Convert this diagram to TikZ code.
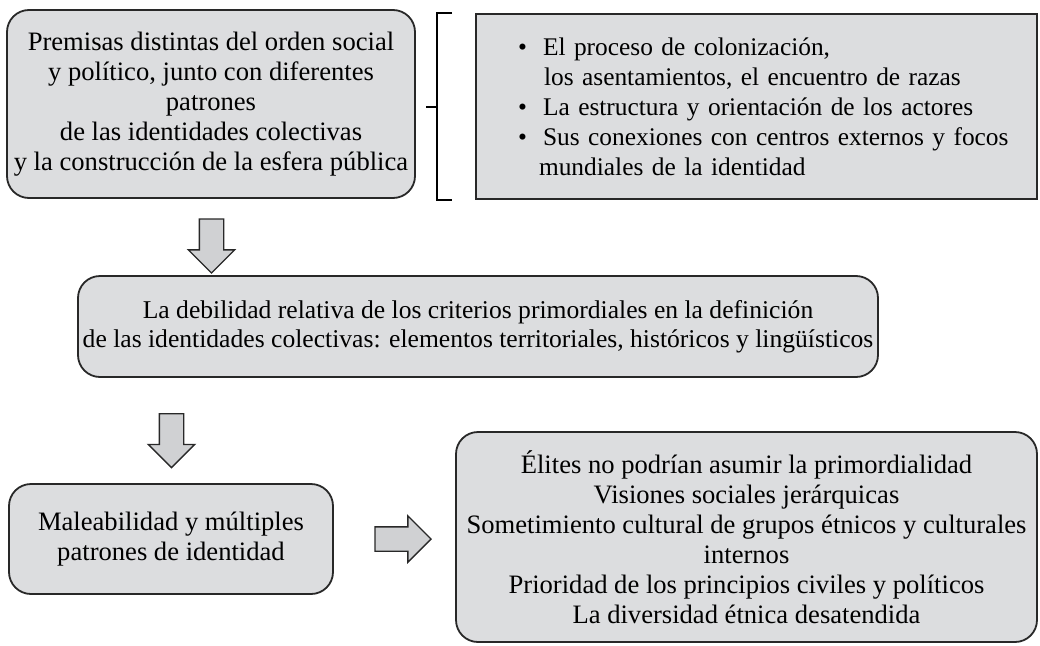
\documentclass[tikz,border=0pt]{standalone}
\usepackage{fontspec}
\setmainfont{Liberation Serif}
\usepackage{tikz}
\usetikzlibrary{shapes.arrows,calc,positioning}
\definecolor{boxgray}{RGB}{220,221,223}
\definecolor{arrowgray}{RGB}{208,209,211}
\definecolor{linegray}{RGB}{40,40,40}

\newcommand{\bul}{\hspace*{27pt}\makebox[25pt][l]{\textbullet}}

\tikzset{
  box/.style={draw=linegray, fill=boxgray, line width=1.8pt, rounded corners=22pt,
    align=center, inner sep=0pt, font=\fontsize{26.6}{30}\selectfont},
  flatbox/.style={box, rounded corners=0pt},
  blockarrow/.style={single arrow, draw=linegray, fill=arrowgray, line width=1.4pt,
    inner sep=11.5pt, single arrow head extend=11pt,
    minimum height=54pt, minimum width=0pt},
  bracket/.style={draw=black, line width=2pt}
}

\begin{document}
\begin{tikzpicture}[x=1pt, y=-1pt]
   \useasboundingbox (0,0) rectangle (1040,645);
   % boxes
   \node[box, minimum width=408pt, minimum height=188pt] (prem) at (211,104)
     {Premisas distintas del orden social\\ y político, junto con  diferentes\\ patrones\\
      de las identidades colectivas\\ y la construcción de la esfera pública};
   \node[flatbox, align=left, text width=531pt, inner xsep=15pt, minimum height=185pt,
     font=\fontsize{25.4}{30}\selectfont] (factores) at (756.5,106.5)
     {\bul El proceso de colonización,\\
      \hspace*{53pt}los asentamientos, el encuentro de razas\\
      \bul La estructura y orientación de los actores\\
      \bul Sus conexiones con centros externos y focos\\
      \hspace*{48pt}mundiales de la identidad};
   \node[box, minimum width=800pt, minimum height=101pt, font=\fontsize{25.6}{29}\selectfont] (debil) at (478,326.5)
     {La debilidad relativa de los criterios primordiales en la definición\\
      de las identidades colectivas: elementos territoriales, históricos y lingüísticos};
   \node[box, minimum width=324pt, minimum height=110pt] (malea) at (171,539)
     {Maleabilidad y múltiples\\ patrones de identidad};
   \node[box, minimum width=581pt, minimum height=210pt] (elites) at (746.5,537)
     {Élites no podrían asumir la primordialidad\\ Visiones sociales jerárquicas\\
      Sometimiento cultural de grupos étnicos y culturales\\ internos\\
      Prioridad de los principios civiles y políticos\\ La diversidad étnica desatendida};
   % arrows
   \node[blockarrow, shape border rotate=270] (a1) at ($(prem.south)+(0.5,41)$) {};
   \node[blockarrow, shape border rotate=270] (a2) at ($(malea.north)+(0.5,-48.5)$) {};
   \node[blockarrow, minimum height=56pt] (a3) at ($(malea.east)+(63,0)$) {};
   % bracket
   \draw[bracket] ($(factores.north west)+(-23,0)$) -| ($(factores.south west)+(-38,0)$) -- ++(15,0);
   \draw[bracket] ($(factores.west)+(-38,0)$) -- ++(-11,0);
\end{tikzpicture}
\end{document}
